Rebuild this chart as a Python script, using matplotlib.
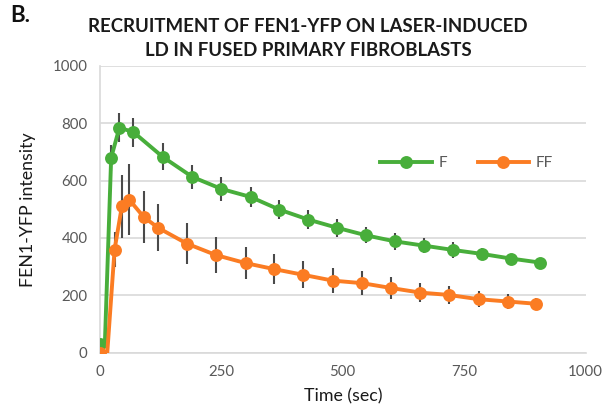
import matplotlib
matplotlib.use("Agg")
import matplotlib.pyplot as plt

plt.rcParams['font.family'] = ['Lato', 'DejaVu Sans']

# Data
t_f = [0, 10, 23, 40, 69, 129, 190, 250, 310, 369, 429, 489, 548, 607, 667, 727, 787, 846, 906]
v_f = [30, 30, 680, 785, 769, 683, 613, 571, 543, 499, 464, 435, 409, 388, 373, 358, 344, 328, 314]
e_f = [0, 0, 45, 50, 50, 47, 42, 43, 35, 32, 32, 32, 28, 30, 26, 28, 20, 15, 0]

t_ff = [0, 15, 30, 45, 60, 90, 120, 179, 239, 300, 359, 419, 479, 540, 600, 660, 718, 780, 840, 899]
v_ff = [0, 0, 359, 510, 534, 473, 435, 380, 340, 312, 291, 271, 251, 242, 225, 209, 201, 186, 178, 170]
e_ff = [0, 0, 60, 110, 125, 90, 82, 72, 64, 55, 52, 47, 45, 41, 38, 34, 32, 27, 27, 20]

x_ticks = [0, 250, 500, 750, 1000]
y_ticks = [0, 200, 400, 600, 800, 1000]

green = '#48AE3B'
orange = '#FB7C23'
errc = '#4A4A4A'
gridc = '#D9D9D9'
tickc = '#595959'

fig = plt.figure(figsize=(6.12, 4.15), dpi=100)
ax = fig.add_axes([100/612, 1-352.5/415, 485.5/612, 286.5/415])

ax.errorbar(t_f, v_f, yerr=e_f, fmt='none', ecolor=errc, elinewidth=1.5, capsize=0, zorder=2)
ax.errorbar(t_ff, v_ff, yerr=e_ff, fmt='none', ecolor=errc, elinewidth=1.5, capsize=0, zorder=2)

mk_f = [i for i in range(len(t_f)) if i != 1]
mk_ff = [i for i in range(len(t_ff)) if i != 1]
ax.plot(t_f, v_f, color=green, lw=2.8, marker='o', ms=9.3, mew=0, markevery=mk_f, label='F', zorder=3)
ax.plot(t_ff, v_ff, color=orange, lw=2.8, marker='o', ms=9.3, mew=0, markevery=mk_ff, label='FF', zorder=4)

ax.set_xlim(0, 1000)
ax.set_ylim(0, 1000)
ax.set_xticks(x_ticks)
ax.set_yticks(y_ticks)
ax.set_xticklabels([str(v) for v in x_ticks])
ax.set_yticklabels([str(v) for v in y_ticks])
ax.tick_params(length=0, labelsize=10.8, labelcolor=tickc, pad=9)
ax.grid(axis='y', color=gridc, lw=1.2)
ax.set_axisbelow(True)
for s in ['top', 'right']:
    ax.spines[s].set_visible(False)
ax.spines['left'].set_color(gridc)
ax.spines['left'].set_linewidth(1.2)
ax.spines['bottom'].set_color(gridc)
ax.spines['bottom'].set_linewidth(1.2)
ax.patch.set_alpha(0)

ax.set_xlabel('Time (sec)', fontsize=12.8, color='#1a1a1a', labelpad=7)
ax.set_ylabel('FEN1-YFP intensity', fontsize=12.8, color='#1a1a1a', labelpad=12)

leg = ax.legend(loc='center', bbox_to_anchor=(0.755, 0.66), ncol=2, frameon=False,
                fontsize=11, handlelength=3.4, columnspacing=2.0, handletextpad=0.4)
for txt in leg.get_texts():
    txt.set_color(tickc)

fig.text(308/612, 1-26/415, 'RECRUITMENT OF FEN1-YFP ON LASER-INDUCED', ha='center', va='center',
         fontsize=13.4, fontweight='bold', color='#1a1a1a')
fig.text(308/612, 1-50/415, 'LD IN FUSED PRIMARY FIBROBLASTS', ha='center', va='center',
         fontsize=13.4, fontweight='bold', color='#1a1a1a')
fig.text(10/612, 1-15/415, 'B.', ha='left', va='center', fontsize=16, fontweight='bold', color='#111111')

fig.savefig('out.png', dpi=100)
